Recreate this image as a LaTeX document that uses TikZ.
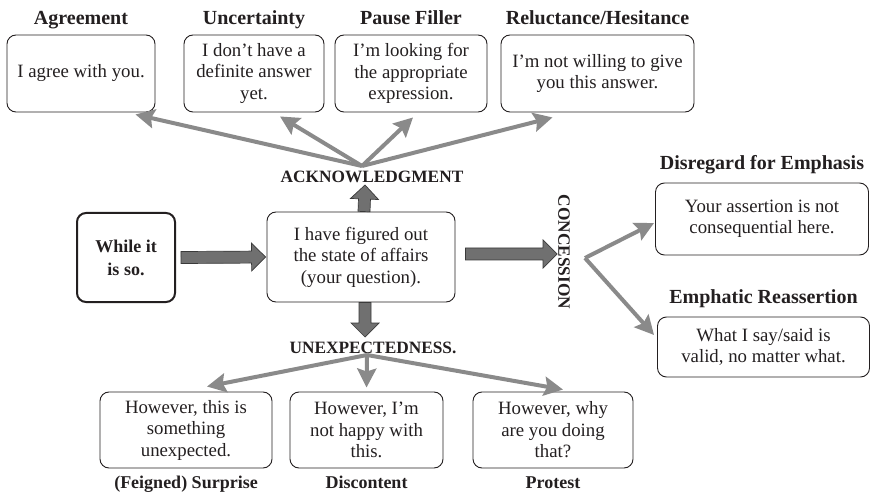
\documentclass[tikz,border=0pt]{standalone}
\usepackage{fontspec}
\setmainfont{Liberation Serif}
\usetikzlibrary{calc,arrows.meta}

\definecolor{ink}{HTML}{231F20}
\definecolor{branchgray}{HTML}{8A8A8A}
\definecolor{blockfill}{HTML}{707070}
\definecolor{blockline}{HTML}{3A3A3A}

\newcommand\bodyfont{\fontsize{18.8}{21.5}\selectfont}
\newcommand\boldbodyfont{\fontsize{18}{23}\selectfont\bfseries}
\newcommand\headfont{\fontsize{20}{24}\selectfont\bfseries}
\newcommand\footfont{\fontsize{18}{22}\selectfont\bfseries}
\newcommand\relfont{\fontsize{17.3}{20}\selectfont\bfseries}

\tikzset{
  box/.style={draw=ink, line width=0.9pt, rounded corners=9pt, align=center,
    inner sep=0pt, text=ink, font=\bodyfont},
  startbox/.style={box, line width=2pt, font=\boldbodyfont},
  heading/.style={anchor=base, text=ink, font=\headfont, inner sep=0pt},
  footing/.style={anchor=base, text=ink, font=\footfont, inner sep=0pt},
  relation/.style={text=ink, font=\relfont, inner sep=0pt},
  branch/.style={draw=branchgray, line width=4pt,
    -{Stealth[length=19pt,width=19pt,inset=3pt]}},
  blockshape/.style={fill=blockfill, draw=blockline, line width=0.7pt,
    line join=miter},
}

% wide filled arrow from coordinate #1 to tip coordinate #2
\newcommand\blockarrow[2]{%
  \coordinate (bahead) at ($(#2)!14pt!(#1)$);
  \filldraw[blockshape]
    ($(#1)!6pt!90:(#2)$) -- ($(bahead)!6pt!90:(#2)$) --
    ($(bahead)!14pt!90:(#2)$) -- (#2) --
    ($(bahead)!14pt!-90:(#2)$) -- ($(bahead)!6pt!-90:(#2)$) --
    ($(#1)!6pt!-90:(#2)$) -- cycle;
}

\begin{document}
\begin{tikzpicture}[x=1pt, y=-1pt]
\useasboundingbox (0,0) rectangle (872,494);

% top row: acknowledgment readings
\node[box, minimum width=148pt, minimum height=77pt] (agree) at (81,73.5) {I agree with you.};
\node[box, minimum width=140pt, minimum height=77pt] (uncert) at (254,73.5) {I don’t have a\\definite answer\\yet.};
\node[box, minimum width=152pt, minimum height=77pt] (pause) at (411,73.5) {I’m looking for\\the appropriate\\expression.};
\node[box, minimum width=193pt, minimum height=77pt] (reluct) at (597.5,73.5) {I’m not willing to give\\you this answer.};

\node[heading] (agreeT) at (81,25) {Agreement};
\node[heading] (uncertT) at (254,25) {Uncertainty};
\node[heading] (pauseT) at (411,25) {Pause Filler};
\node[heading] (reluctT) at (597.5,25) {Reluctance/Hesitance};

% middle row
\node[startbox, minimum width=98pt, minimum height=89pt] (while) at (126,257.5) {While it\\is so.};
\node[box, minimum width=188pt, minimum height=90pt] (center) at (361,257) {I have figured out\\the state of affairs\\(your question).};

\node[relation, anchor=base] (ack) at (372,183) {ACKNOWLEDGMENT};
\node[relation, anchor=base] (unexp) at (373,353) {UNEXPECTEDNESS.};
\node[relation, rotate=-90] (conc) at (564,252) {CONCESSION};

% right column: concession readings
\node[box, minimum width=213pt, minimum height=72pt] (disreg) at (762,219) {Your assertion is not\\consequential here.};
\node[box, minimum width=212pt, minimum height=60pt] (emph) at (763.5,347) {What I say/said is\\valid, no matter what.};
\node[heading] (disregT) at (762,170) {Disregard for Emphasis};
\node[heading] (emphT) at (763.5,303) {Emphatic Reassertion};

% bottom row: unexpectedness readings
\node[box, minimum width=172pt, minimum height=76pt] (surprise) at (186,430) {However, this is\\something\\unexpected.};
\node[box, minimum width=153pt, minimum height=76pt] (discont) at (366.5,430) {However, I’m\\not happy with\\this.};
\node[box, minimum width=160pt, minimum height=76pt] (protest) at (553,430) {However, why\\are you doing\\that?};
\node[footing] (surpriseT) at (186,488) {(Feigned) Surprise};
\node[footing] (discontT) at (366.5,488) {Discontent};
\node[footing] (protestT) at (553,488) {Protest};

% wide arrows out of the central box
\coordinate (w1) at ($(while.east)+(5,0)$);
\coordinate (w2) at ($(center.west)+(-1,0)$);
\blockarrow{w1}{w2}
\coordinate (c1) at ($(center.east)+(10,-3)$);
\coordinate (c2) at ($(conc.center)+(-7,2)$);
\blockarrow{c1}{c2}
\coordinate (u1) at ($(center.north)+(3,0)$);
\coordinate (u2) at ($(ack.base)+(-7,2)$);
\blockarrow{u1}{u2}
\coordinate (d1) at ($(center.south)+(4,0)$);
\coordinate (d2) at ($(unexp.base)+(-8,-16)$);
\blockarrow{d1}{d2}

% acknowledgment branches
\coordinate (ackhub) at ($(ack.base)+(-10,-17)$);
\draw[branch] (ackhub) -- ($(agree.south east)+(-20,2)$);
\draw[branch] (ackhub) -- ($(uncert.south)+(26,4)$);
\draw[branch] (ackhub) -- ($(pause.south)+(2,5)$);
\draw[branch] (ackhub) -- ($(reluct.south)+(-45,5)$);

% concession branches
\coordinate (conchub) at ($(conc.center)+(21,6)$);
\draw[branch] (conchub) -- ($(disreg.west)+(-1,4)$);
\draw[branch] (conchub) -- ($(emph.west)+(-3,-12)$);

% unexpectedness branches
\coordinate (unexphub) at ($(unexp.base)+(-6,2)$);
\draw[branch] (unexphub) -- ($(surprise.north)+(21,-5)$);
\draw[branch] (unexphub) -- ($(discont.north)+(0,-4)$);
\draw[branch] (unexphub) -- ($(protest.north)+(10,-2)$);
\end{tikzpicture}
\end{document}
